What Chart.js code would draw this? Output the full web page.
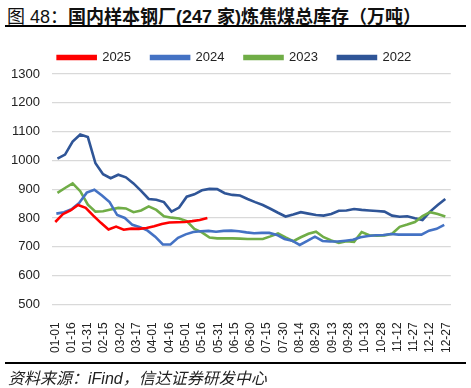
<!DOCTYPE html>
<html>
<head>
<meta charset="utf-8">
<script src="https://cdn.jsdelivr.net/npm/chart.js@4.4.1/dist/chart.umd.min.js"></script>
<style>
  body { margin: 0; width: 471px; height: 388px; background: #fff; position: relative; overflow: hidden; }
  #title { position: absolute; left: 7px; top: 2px; font: bold 18px "Liberation Sans", "Noto Sans CJK SC", sans-serif; color: #111; white-space: nowrap; }
  #title .fig { font-weight: normal; }
  .rule { position: absolute; left: 5px; width: 461px; height: 2px; background: #000; }
  #box { position: absolute; left: 0; top: 21px; width: 471px; height: 346px; }
  #source { position: absolute; left: 8px; top: 365px; font: italic 16px "Liberation Sans", "Noto Sans CJK SC", sans-serif; color: #222; white-space: nowrap; }
</style>
</head>
<body>
<div id="title"><span class="fig">图 48：</span>国内样本钢厂(247 家)炼焦煤总库存（万吨）</div>
<div class="rule" style="top:25px"></div>
<div id="box"><canvas id="myChart"></canvas></div>
<div class="rule" style="top:362px"></div>
<div id="source">资料来源：iFind，信达证券研发中心</div>
<script>
// weekly readings, x = day of year (start day + 7 per week)
const xTickDays = [0, 15, 30, 45, 60, 75, 90, 105, 120, 135, 150, 165, 180, 195, 210, 225, 240, 255, 270, 285, 300, 315, 330, 345, 360];
const xTickLabels = ['01-01', '01-16', '01-31', '02-15', '03-02', '03-17', '04-01', '04-16', '05-01', '05-16', '05-31', '06-15',
    '06-30', '07-15', '07-30', '08-14', '08-29', '09-13', '09-28', '10-13', '10-28', '11-12', '11-27', '12-12', '12-27'];

const start2025 = 0;
const values2025 = [786, 813, 826, 845, 835, 808, 783, 760, 770, 759, 763, 762, 765, 771, 779, 784, 785, 786, 789, 793, 800];

const start2024 = 1;
const values2024 = [815, 820, 830, 852, 888, 898, 878, 855, 810, 800, 776, 768, 756, 735, 708, 708, 731, 743, 751, 754,
    755, 752, 755, 756, 754, 750, 747, 748, 748, 741, 727, 721, 706, 720, 735, 720, 718, 718, 721, 724,
    733, 737, 740, 741, 744, 742, 742, 742, 742, 756, 762, 776];

const start2023 = 2;
const values2023 = [887, 904, 920, 893, 846, 822, 823, 829, 835, 833, 820, 826, 840, 828, 806, 801, 798, 789, 762, 750,
    732, 729, 729, 729, 728, 727, 727, 727, 736, 746, 732, 719, 733, 745, 752, 733, 722, 713, 719, 717,
    751, 740, 738, 739, 745, 769, 777, 786, 806, 820, 814, 805];

const start2022 = 2;
const values2022 = [1006, 1020, 1065, 1090, 1081, 990, 952, 938, 950, 941, 920, 894, 866, 863, 855, 822, 836, 874, 882, 896,
    901, 900, 886, 880, 878, 866, 855, 845, 832, 818, 805, 812, 820, 815, 810, 808, 814, 825, 826, 831,
    828, 826, 824, 822, 808, 804, 806, 799, 793, 822, 845, 866];

function toPoints(startDay, values) {
    return values.map((v, i) => ({ x: startDay + 7 * i, y: v }));
}

function series(label, startDay, values, color) {
    return {
        label: label,
        data: toPoints(startDay, values),
        borderColor: color,
        backgroundColor: color,
        borderWidth: 2.6,
        pointRadius: 0,
        tension: 0,
        fill: false
    };
}

// nudge the legend a little to the right, like the original
const legendShift = {
    id: 'legendShift',
    afterLayout(chart) {
        chart.legend.left += 8;
        chart.legend.right += 8;
    }
};

Chart.defaults.font.family = '"Liberation Sans", Arial, sans-serif';
Chart.defaults.color = '#262626';

const ctx = document.getElementById('myChart').getContext('2d');
const chart = new Chart(ctx, {
    type: 'line',
    data: {
        datasets: [
            series('2025', start2025, values2025, '#ff0000'),
            series('2024', start2024, values2024, '#4472c4'),
            series('2023', start2023, values2023, '#70ad47'),
            series('2022', start2022, values2022, '#2f5597')
        ]
    },
    plugins: [legendShift],
    options: {
        responsive: true,
        maintainAspectRatio: false,
        animation: false,
        layout: { padding: { top: 10, right: 18, bottom: 4, left: 0 } },
        plugins: {
            legend: {
                position: 'top',
                labels: {
                    boxWidth: 38,
                    boxHeight: 3,
                    padding: 20,
                    font: { size: 13 },
                    color: '#222'
                }
            },
            tooltip: { enabled: false }
        },
        scales: {
            x: {
                type: 'linear',
                min: -3,
                max: 364,
                grid: { display: false },
                border: { display: true, color: '#d9d9d9' },
                afterBuildTicks: scale => {
                    scale.ticks = xTickDays.map(v => ({ value: v }));
                },
                ticks: {
                    autoSkip: false,
                    minRotation: 90,
                    maxRotation: 90,
                    padding: 10,
                    font: { size: 12 },
                    color: '#222',
                    callback: value => xTickLabels[xTickDays.indexOf(value)]
                }
            },
            y: {
                min: 500,
                max: 1300,
                afterFit: scale => { scale.width = 52; },
                grid: { color: '#d9d9d9', lineWidth: 1.2, drawTicks: false },
                border: { display: false },
                ticks: {
                    stepSize: 100,
                    padding: 12,
                    font: { size: 13 },
                    color: '#222',
                    callback: value => String(value)
                }
            }
        }
    }
});
</script>
</body>
</html>
